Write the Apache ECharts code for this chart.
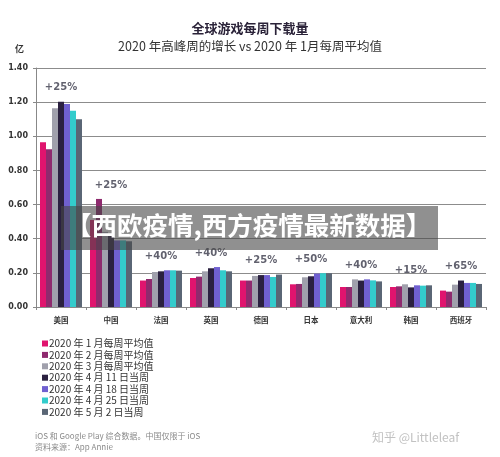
<!DOCTYPE html>
<html>
<head>
<meta charset="utf-8">
<script src="https://cdn.jsdelivr.net/npm/echarts@6/dist/echarts.min.js"></script>
<style>
  html, body { margin: 0; padding: 0; background: #fff; }
  #chart { width: 500px; height: 457px; }
</style>
</head>
<body>
<div id="chart"></div>
<script>
// weekly game downloads, hundred millions (亿)
const countries = ["美国", "中国", "法国", "英国", "德国", "日本", "意大利", "韩国", "西班牙"];
const seriesNames = [
  "2020 年 1 月每周平均值",
  "2020 年 2 月每周平均值",
  "2020 年 3 月每周平均值",
  "2020 年 4 月 11 日当周",
  "2020 年 4 月 18 日当周",
  "2020 年 4 月 25 日当周",
  "2020 年 5 月 2 日当周",
];
const jan = [0.965, 0.51, 0.155, 0.17, 0.155, 0.133, 0.117, 0.117, 0.096];
const feb = [0.924, 0.633, 0.164, 0.178, 0.155, 0.135, 0.117, 0.121, 0.09];
const mar = [1.164, 0.44, 0.205, 0.209, 0.182, 0.174, 0.162, 0.133, 0.131];
const apr11 = [1.203, 0.42, 0.209, 0.227, 0.187, 0.18, 0.155, 0.115, 0.155];
const apr18 = [1.189, 0.39, 0.215, 0.234, 0.187, 0.196, 0.162, 0.127, 0.141];
const apr25 = [1.15, 0.39, 0.215, 0.215, 0.176, 0.198, 0.156, 0.125, 0.141];
const may2 = [1.1, 0.385, 0.213, 0.209, 0.19, 0.198, 0.15, 0.127, 0.135];
const growth = ["+25%", "+25%", "+40%", "+40%", "+25%", "+50%", "+40%", "+15%", "+65%"];

const colors = ["#e0146e", "#8e2a6e", "#a0a0ac", "#2b2140", "#7060d0", "#33cccc", "#5a6675"];
const allSeries = [jan, feb, mar, apr11, apr18, apr25, may2];
// peak of each group, the growth label sits above it
const peaks = countries.map((_, i) => Math.max(...allSeries.map((s) => s[i])));

const num = "'DejaVu Sans', 'Noto Sans CJK SC', sans-serif";
const cjk = "'Noto Sans CJK SC', sans-serif";

const chart = echarts.init(document.getElementById("chart"), null, { renderer: "canvas" });
chart.setOption({
  backgroundColor: "#fff",
  animation: false,
  color: colors,
  title: [
    { text: "全球游戏每周下载量", left: "center", top: 17,
      textStyle: { fontFamily: cjk, fontSize: 13, fontWeight: "bold", color: "#2a2238" } },
    { text: "2020 年高峰周的增长 vs 2020 年 1月每周平均值", left: "center", top: 35,
      textStyle: { fontFamily: cjk, fontSize: 12.5, fontWeight: "normal", color: "#333" } },
    { text: "亿", left: 10, top: 39,
      textStyle: { fontFamily: cjk, fontSize: 9, fontWeight: "bold", color: "#333" } },
  ],
  grid: { left: 36, right: 14, top: 68, bottom: 150 },
  legend: {
    orient: "vertical",
    left: 42,
    top: 338,
    icon: "rect",
    itemWidth: 6,
    itemHeight: 6,
    itemGap: 0.4,
    padding: 0,
    data: seriesNames,
    textStyle: { fontFamily: cjk, fontSize: 10, lineHeight: 11, color: "#333", padding: [0, 0, 0, -4] },
  },
  xAxis: {
    type: "category",
    data: countries,
    axisLine: { lineStyle: { color: "#888" } },
    axisTick: { show: true, length: 3, interval: 0, lineStyle: { color: "#888" } },
    axisLabel: { fontFamily: cjk, fontSize: 7.5, fontWeight: "bold", color: "#333", margin: 9, interval: 0 },
  },
  yAxis: {
    type: "value",
    min: 0,
    max: 1.4,
    interval: 0.2,
    axisLine: { show: true, lineStyle: { color: "#888" } },
    axisTick: { show: true, length: 3, lineStyle: { color: "#888" } },
    splitLine: { lineStyle: { color: "#8c8c8c", width: 1 } },
    axisLabel: { fontFamily: num, fontSize: 8, fontWeight: "bold", color: "#333", margin: 8,
      formatter: (v) => v.toFixed(2) },
  },
  series: [
    ...allSeries.map((d, i) => ({
      name: seriesNames[i],
      type: "bar",
      data: d,
      barGap: "0%",
      barCategoryGap: "16%",
      itemStyle: { color: colors[i] },
    })),
    {
      type: "scatter",
      data: peaks,
      symbolSize: 0,
      silent: true,
      label: {
        show: true,
        position: "top",
        distance: 9,
        fontFamily: num,
        fontSize: 10,
        fontWeight: "bold",
        color: "#3a3a4a",
        formatter: (p) => growth[p.dataIndex],
      },
    },
  ],
  graphic: [
    { type: "rect", left: 61, top: 206, shape: { width: 377, height: 44 },
      style: { fill: "rgba(70,70,70,0.6)" }, z: 100 },
    { type: "text", left: 66, top: 213, z: 101,
      style: { text: "【西欧疫情,西方疫情最新数据】", fill: "#fff", fontFamily: cjk, fontSize: 25.5, fontWeight: "bold" } },
    { type: "text", left: 35, top: 432,
      style: { text: "iOS 和 Google Play 综合数据。中国仅限于 iOS", fill: "#8a8a8a", fontFamily: cjk, fontSize: 8 } },
    { type: "text", left: 35, top: 443,
      style: { text: "资料来源：App Annie", fill: "#8a8a8a", fontFamily: cjk, fontSize: 8 } },
    { type: "text", left: 372, top: 431,
      style: { text: "知乎 @Littleleaf", fill: "#c2c2c2", fontFamily: cjk, fontSize: 12 } },
  ],
});
</script>
</body>
</html>
